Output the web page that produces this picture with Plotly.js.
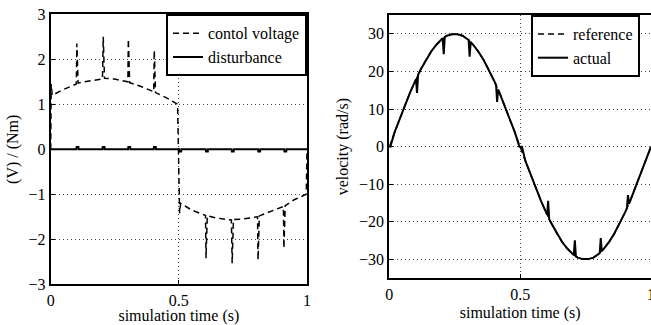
<!DOCTYPE html>
<html>
<head>
<meta charset="utf-8">
<script src="https://cdn.plot.ly/plotly-3.0.1.min.js"></script>
<style>html,body{margin:0;padding:0;background:#fff;}#chart{width:651px;height:325px;}</style>
</head>
<body>
<div id="chart"></div>
<script>
// Left panel: control voltage (dashed) and disturbance (solid)
var time_u = [0,0.002,0.006,0.05, 0.100,0.102,0.107,0.15, 0.202,0.205,0.210,0.25, 0.301,0.303,0.308,0.35, 0.402,0.404,0.409,0.45, 0.495,0.503,0.507,0.55, 0.604,0.606,0.611,0.65, 0.705,0.708,0.713,0.75, 0.807,0.809,0.814,0.85, 0.908,0.910,0.915,0.95, 0.997,1.0];
var control_voltage = [0,1.45,1.2,1.33, 1.45,2.35,1.47,1.52, 1.56,2.5,1.58,1.56, 1.5,2.45,1.48,1.4, 1.28,2.2,1.26,1.15, 1.0,-1.42,-1.2,-1.35, -1.47,-2.42,-1.48,-1.53, -1.57,-2.53,-1.56,-1.55, -1.5,-2.46,-1.48,-1.4, -1.27,-2.2,-1.25,-1.12, -1.0,0];

var time_d = [0, 0.100,0.101,0.108,0.109, 0.202,0.203,0.210,0.211, 0.302,0.303,0.310,0.311, 0.402,0.403,0.410,0.411, 0.501,0.502,0.509,0.510, 0.605,0.606,0.613,0.614, 0.706,0.707,0.714,0.715, 0.809,0.810,0.817,0.818, 0.911,0.912,0.919,0.920, 1.0];
var disturbance = [0, 0,0.05,0.05,0, 0,0.05,0.05,0, 0,0.05,0.05,0, 0,0.05,0.05,0, 0,-0.05,-0.05,0, 0,-0.05,-0.05,0, 0,-0.05,-0.05,0, 0,-0.05,-0.05,0, 0,-0.05,-0.05,0, 0];

// Right panel: velocity reference (dashed) and actual (solid)
var time_ref = [0,0.02,0.04,0.06,0.08,0.1,0.12,0.14,0.16,0.18,0.2,0.22,0.24,0.26,0.28,0.3,0.32,0.34,0.36,0.38,0.4,0.42,0.44,0.46,0.48,0.5,0.52,0.54,0.56,0.58,0.6,0.62,0.64,0.66,0.68,0.7,0.72,0.74,0.76,0.78,0.8,0.82,0.84,0.86,0.88,0.9,0.92,0.94,0.96,0.98,1.0];
var vel_ref = [0,3.8,7.5,11.0,14.5,17.6,20.5,23.1,25.3,27.1,28.5,29.5,29.9,29.9,29.5,28.5,27.1,25.3,23.1,20.5,17.6,14.5,11.0,7.5,3.8,0,-3.8,-7.5,-11.0,-14.5,-17.6,-20.5,-23.1,-25.3,-27.1,-28.5,-29.5,-29.9,-29.9,-29.5,-28.5,-27.1,-25.3,-23.1,-20.5,-17.6,-14.5,-11.0,-7.5,-3.8,0];

var time_act = [0,0.004,0.02,0.04,0.06,0.08,0.1,0.102,0.106,0.110,0.12,0.14,0.16,0.18,0.2,0.204,0.208,0.212,0.22,0.24,0.26,0.28,0.3,0.303,0.307,0.311,0.32,0.34,0.36,0.38,0.4,0.408,0.412,0.416,0.42,0.44,0.46,0.48,0.497,0.507,0.52,0.54,0.56,0.58,0.6,0.603,0.607,0.611,0.62,0.64,0.66,0.68,0.7,0.705,0.709,0.713,0.72,0.74,0.76,0.78,0.8,0.804,0.808,0.812,0.82,0.84,0.86,0.88,0.9,0.908,0.912,0.916,0.92,0.94,0.96,0.98,1.0];
var vel_act = [0,0,3.8,7.5,11.0,14.5,17.6,17.9,14.3,19.1,20.5,23.1,25.3,27.1,28.5,28.8,24.6,29.2,29.5,29.9,29.9,29.5,28.5,28.4,23.9,27.8,27.1,25.3,23.1,20.5,17.6,16.4,11.9,15.2,14.5,11.0,7.5,3.8,0,0,-3.8,-7.5,-11.0,-14.5,-17.6,-18.1,-14.4,-19.3,-20.5,-23.1,-25.3,-27.1,-28.5,-28.8,-24.9,-29.2,-29.5,-29.9,-29.9,-29.5,-28.5,-28.3,-24.3,-27.8,-27.1,-25.3,-23.1,-20.5,-17.6,-16.4,-12.9,-15.2,-14.5,-11.0,-7.5,-3.8,0];

var left_names = ["contol voltage", "disturbance"];
var right_names = ["reference", "actual"];
var x_ticks = [0, 0.5, 1];
var x_ticklabels = ["0", "0.5", "1"];
var left_yticks = [-3,-2,-1,0,1,2,3];
var right_yticks = [-30,-20,-10,0,10,20,30];

var FONT = "Times New Roman";
var FS = 16;
var W = 651, H = 325;

var traces = [
  {x: time_u, y: control_voltage, name: left_names[0], type: "scatter", mode: "lines",
   line: {color: "#000", width: 1.5, dash: "6px,4px"}, xaxis: "x", yaxis: "y"},
  {x: time_d, y: disturbance, name: left_names[1], type: "scatter", mode: "lines",
   line: {color: "#000", width: 2}, xaxis: "x", yaxis: "y"},
  {x: time_ref, y: vel_ref, name: right_names[0], type: "scatter", mode: "lines",
   line: {color: "#000", width: 1.5, dash: "6px,4px"}, xaxis: "x2", yaxis: "y2", legend: "legend2"},
  {x: time_act, y: vel_act, name: right_names[1], type: "scatter", mode: "lines",
   line: {color: "#000", width: 2}, xaxis: "x2", yaxis: "y2", legend: "legend2"}
];

function xax(domain, anchor) {
  return {
    domain: domain, anchor: anchor, range: [0, 1],
    tickvals: x_ticks, ticktext: x_ticklabels,
    ticks: "inside", ticklen: 4, tickcolor: "#000",
    ticklabeloverflow: "allow",
    showline: true, linecolor: "#000", linewidth: 2, mirror: true,
    showgrid: true, gridcolor: "#444", griddash: "1px,3px", gridwidth: 1,
    zeroline: false,
    tickfont: {family: FONT, size: FS},
    title: {text: "simulation time (s)", font: {family: FONT, size: FS}, standoff: 5}
  };
}
function yax(domain, anchor, range, ticks, title) {
  return {
    domain: domain, anchor: anchor, range: range,
    tickvals: ticks,
    ticks: "inside", ticklen: 4, tickcolor: "#000",
    showline: true, linecolor: "#000", linewidth: 2, mirror: true,
    showgrid: true, gridcolor: "#444", griddash: "1px,3px", gridwidth: 1,
    zeroline: false,
    tickfont: {family: FONT, size: FS},
    title: {text: title, font: {family: FONT, size: FS}, standoff: 6}
  };
}

var layout = {
  width: W, height: H,
  margin: {l: 0, r: 0, t: 0, b: 0},
  paper_bgcolor: "#fff", plot_bgcolor: "#fff",
  font: {family: FONT, size: FS, color: "#000"},
  xaxis: xax([50.7 / W, 307 / W], "y"),
  yaxis: yax([(H - 284.3) / H, (H - 14.3) / H], "x", [-3, 3], left_yticks, "(V) / (Nm)"),
  xaxis2: xax([389.3 / W, 1], "y2"),
  yaxis2: yax([(H - 278.3) / H, (H - 15) / H], "x2", [-35, 35], right_yticks, "velocity (rad/s)"),
  legend: {x: 307 / W, y: (H - 14.3) / H, xanchor: "right", yanchor: "top",
    bgcolor: "#fff", bordercolor: "#000", borderwidth: 2,
    font: {family: FONT, size: FS}, tracegroupgap: 0},
  legend2: {x: 531 / W, y: (H - 15) / H, xanchor: "left", yanchor: "top",
    bgcolor: "#fff", bordercolor: "#000", borderwidth: 2,
    font: {family: FONT, size: FS}, tracegroupgap: 0},
  showlegend: true
};

Plotly.newPlot("chart", traces, layout, {displayModeBar: false, staticPlot: true});
</script>
</body>
</html>
